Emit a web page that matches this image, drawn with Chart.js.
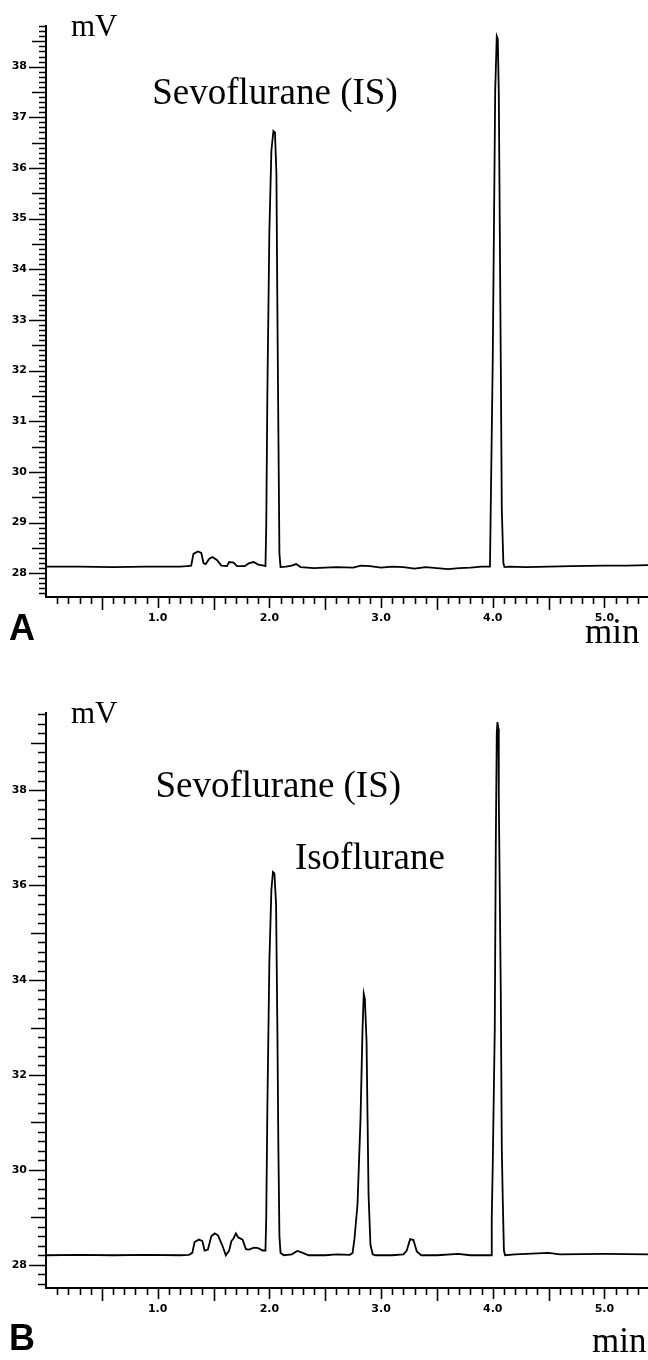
<!DOCTYPE html>
<html>
<head>
<meta charset="utf-8">
<script src="https://cdn.jsdelivr.net/npm/chart.js@4.4.1/dist/chart.umd.min.js"></script>
<style>
    body { margin: 0; background: #fff; }
    .panel { position: absolute; left: 0; width: 648px; height: 680px; }
    #panelA { top: 0; }
    #panelB { top: 680px; }
</style>
</head>
<body>
<div class="panel" id="panelA"><canvas id="chartA" width="648" height="680"></canvas></div>
<div class="panel" id="panelB"><canvas id="chartB" width="648" height="680"></canvas></div>
<script>
// retention time (min) and detector signal (mV)
const timesA = [0.00, 0.30, 0.60, 0.90, 1.20, 1.26, 1.30, 1.32, 1.36, 1.39, 1.41, 1.43, 1.46, 1.49, 1.53, 1.57,
    1.62, 1.64, 1.68, 1.71, 1.78, 1.82, 1.86, 1.90, 1.95, 1.965, 1.972, 1.982, 2.000, 2.018, 2.036, 2.050,
    2.063, 2.072, 2.080, 2.090, 2.100, 2.15, 2.20, 2.24, 2.28, 2.40, 2.50, 2.60, 2.75, 2.82, 2.90, 3.00,
    3.10, 3.20, 3.30, 3.40, 3.50, 3.60, 3.70, 3.80, 3.90, 3.975, 3.982, 4.000, 4.022, 4.036, 4.045, 4.054,
    4.072, 4.081, 4.095, 4.105, 4.15, 4.30, 4.50, 4.70, 5.00, 5.20, 5.39];
const signalA = [28.13, 28.13, 28.12, 28.13, 28.13, 28.14, 28.15, 28.38, 28.43, 28.40, 28.20, 28.18, 28.28, 28.32, 28.26, 28.15,
    28.14, 28.22, 28.21, 28.14, 28.14, 28.20, 28.22, 28.17, 28.15, 28.14, 28.93, 31.54, 34.76, 36.34, 36.73, 36.70,
    35.89, 33.12, 30.96, 28.38, 28.12, 28.13, 28.15, 28.18, 28.12, 28.10, 28.11, 28.12, 28.11, 28.15, 28.14, 28.11,
    28.13, 28.12, 28.09, 28.12, 28.10, 28.08, 28.10, 28.11, 28.13, 28.13, 29.28, 32.23, 37.54, 38.60, 38.55, 37.50,
    32.15, 29.26, 28.20, 28.12, 28.13, 28.12, 28.13, 28.14, 28.15, 28.15, 28.16];

const timesB = [0.00, 0.30, 0.60, 0.90, 1.20, 1.28, 1.31, 1.33, 1.37, 1.40, 1.42, 1.45, 1.48, 1.51, 1.54, 1.58,
    1.61, 1.64, 1.66, 1.68, 1.70, 1.72, 1.76, 1.79, 1.82, 1.86, 1.90, 1.94, 1.965, 1.972, 1.982, 2.000,
    2.018, 2.032, 2.045, 2.060, 2.072, 2.080, 2.090, 2.100, 2.13, 2.20, 2.25, 2.30, 2.35, 2.50, 2.60, 2.72,
    2.745, 2.762, 2.789, 2.816, 2.834, 2.845, 2.855, 2.870, 2.879, 2.888, 2.905, 2.925, 2.95, 3.10, 3.20, 3.23,
    3.26, 3.29, 3.32, 3.36, 3.50, 3.69, 3.80, 3.985, 3.991, 4.000, 4.018, 4.027, 4.036, 4.042, 4.050, 4.054,
    4.072, 4.081, 4.090, 4.100, 4.110, 4.20, 4.50, 4.60, 5.00, 5.39];
const signalB = [28.20, 28.21, 28.20, 28.21, 28.20, 28.21, 28.25, 28.48, 28.53, 28.50, 28.30, 28.32, 28.60, 28.66, 28.62, 28.40,
    28.20, 28.30, 28.50, 28.56, 28.66, 28.58, 28.53, 28.33, 28.32, 28.36, 28.35, 28.30, 28.30, 29.00, 31.30, 34.40,
    35.90, 36.28, 36.25, 35.60, 32.90, 30.60, 28.60, 28.25, 28.20, 28.22, 28.29, 28.25, 28.20, 28.20, 28.22, 28.21,
    28.25, 28.55, 29.27, 31.07, 32.97, 33.71, 33.60, 32.71, 31.07, 29.48, 28.42, 28.22, 28.20, 28.20, 28.22, 28.30,
    28.54, 28.52, 28.28, 28.20, 28.20, 28.23, 28.20, 28.20, 28.97, 30.11, 32.97, 36.77, 39.20, 39.44, 39.30, 37.89,
    33.73, 30.45, 29.33, 28.30, 28.20, 28.22, 28.25, 28.22, 28.23, 28.22];

// tick labels
const xTickLabels = [1.0, 2.0, 3.0, 4.0, 5.0];
const yTickLabelsA = [28, 29, 30, 31, 32, 33, 34, 35, 36, 37, 38];
const yTickLabelsB = [28, 30, 32, 34, 36, 38];

const serif = '"Liberation Serif", "Times New Roman", serif';
const tickFont = { family: '"DejaVu Sans", sans-serif', size: 11, weight: 'bold' };

// minor / mid / major tick marks, placed through the chart's own scales
const tickMarks = {
    id: 'tickMarks',
    afterDraw(chart, args, opts) {
        const ctx = chart.ctx;
        const x = chart.scales.x;
        const y = chart.scales.y;
        ctx.save();
        ctx.strokeStyle = '#000';
        ctx.lineWidth = 1.6;
        ctx.beginPath();
        for (let k = Math.ceil(x.min / 0.1); k <= Math.floor(x.max / 0.1); k++) {
            if (k === 0) continue;
            const len = k % 10 === 0 ? 11 : (k % 5 === 0 ? 13 : 7);
            const px = Math.round(x.getPixelForValue(k * 0.1)) + 0.5;
            ctx.moveTo(px, x.top);
            ctx.lineTo(px, x.top + len);
        }
        const step = opts.yStep;
        for (let k = Math.ceil(y.min / step); k <= Math.floor(y.max / step); k++) {
            const len = k % opts.yMajorEvery === 0 ? 17 : (k % opts.yMidEvery === 0 ? opts.yMidLen : opts.yMinorLen);
            const py = Math.round(y.getPixelForValue(k * step)) + 0.5;
            ctx.moveTo(y.right, py);
            ctx.lineTo(y.right - len, py);
        }
        ctx.stroke();
        ctx.restore();
    }
};

// axis units, panel letter and peak names
const chromLabels = {
    id: 'chromLabels',
    afterDraw(chart, args, opts) {
        const ctx = chart.ctx;
        const area = chart.chartArea;
        const x = chart.scales.x;
        const y = chart.scales.y;
        ctx.save();
        ctx.fillStyle = '#000';
        ctx.textBaseline = 'alphabetic';
        ctx.font = '31px ' + serif;
        ctx.textAlign = 'left';
        ctx.fillText('mV', 71, area.top + 10);
        ctx.font = '35px ' + serif;
        ctx.fillText('min', opts.minX, area.bottom + opts.minOffset);
        ctx.font = 'bold 36px "Liberation Sans", Arial, sans-serif';
        ctx.fillText(opts.letter, 9, area.bottom + opts.letterOffset);
        ctx.font = '37px ' + serif;
        ctx.textAlign = 'center';
        opts.peaks.forEach(p => {
            ctx.fillText(p.name, x.getPixelForValue(p.t), y.getPixelForValue(p.mv));
        });
        ctx.restore();
    }
};

function makeChart(canvasId, times, signal, yMin, yMax, yLabels, layoutTop, xAxisHeight, tickOpts, labelOpts) {
    const ctx = document.getElementById(canvasId).getContext('2d');
    return new Chart(ctx, {
        type: 'line',
        data: {
            datasets: [{
                data: times.map((t, i) => ({ x: t, y: signal[i] })),
                borderColor: '#000',
                borderWidth: 1.8,
                pointRadius: 0,
                tension: 0,
                fill: false
            }]
        },
        options: {
            responsive: false,
            devicePixelRatio: 1,
            animation: false,
            layout: { padding: { top: layoutTop, left: 0, right: 0, bottom: 0 } },
            plugins: {
                legend: { display: false },
                tooltip: { enabled: false },
                tickMarks: tickOpts,
                chromLabels: labelOpts
            },
            scales: {
                x: {
                    type: 'linear',
                    min: 0,
                    max: 5.39,
                    grid: { display: false, drawTicks: false },
                    border: { display: true, color: '#000', width: 2 },
                    afterBuildTicks: (scale) => { scale.ticks = xTickLabels.map(v => ({ value: v })); },
                    afterFit: (scale) => { scale.height = xAxisHeight; },
                    ticks: {
                        color: '#000',
                        font: tickFont,
                        padding: 15,
                        maxRotation: 0,
                        autoSkip: false,
                        callback: (v) => Number(v).toFixed(1)
                    }
                },
                y: {
                    type: 'linear',
                    min: yMin,
                    max: yMax,
                    grid: { display: false, drawTicks: false },
                    border: { display: true, color: '#000', width: 2 },
                    afterBuildTicks: (scale) => { scale.ticks = yLabels.map(v => ({ value: v })); },
                    afterFit: (scale) => { scale.width = 46; },
                    ticks: {
                        color: '#000',
                        font: tickFont,
                        padding: 19,
                        autoSkip: false,
                        callback: (v) => String(v)
                    }
                }
            }
        },
        plugins: [tickMarks, chromLabels]
    });
}

makeChart('chartA', timesA, signalA, 27.53, 38.81, yTickLabelsA, 25, 83,
    { yStep: 0.1, yMajorEvery: 10, yMidEvery: 5, yMidLen: 14, yMinorLen: 7 },
    { letter: 'A', letterOffset: 43, minX: 585, minOffset: 46,
      peaks: [{ name: 'Sevoflurane (IS)', t: 2.05, mv: 37.27 }] });

makeChart('chartB', timesB, signalB, 27.51, 39.63, yTickLabelsB, 33, 72,
    { yStep: 0.2, yMajorEvery: 10, yMidEvery: 5, yMidLen: 15, yMinorLen: 8 },
    { letter: 'B', letterOffset: 62, minX: 592, minOffset: 64, peaks: [
        { name: 'Sevoflurane (IS)', t: 2.08, mv: 37.85 },
        { name: 'Isoflurane', t: 2.9, mv: 36.35 }
    ] });
</script>
</body>
</html>
